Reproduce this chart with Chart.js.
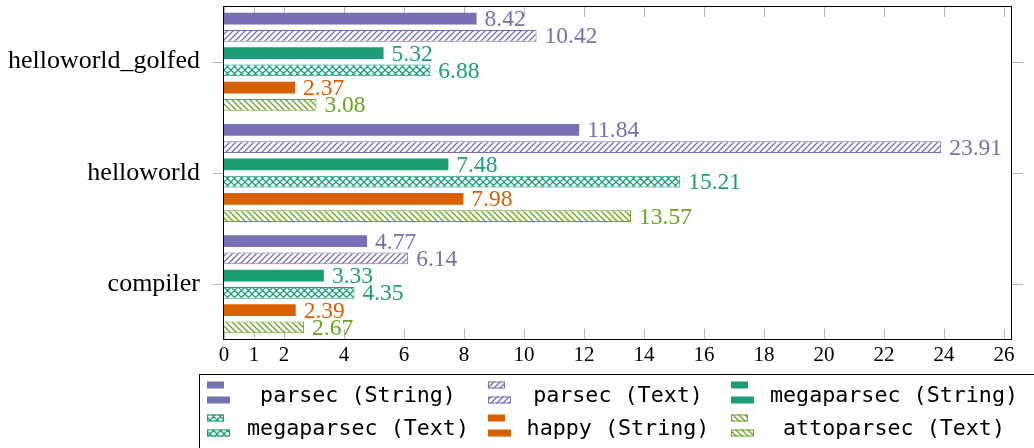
<!DOCTYPE html>
<html>
<head>
<meta charset="utf-8">
<script src="https://cdn.jsdelivr.net/npm/chart.js@4.4.1/dist/chart.umd.min.js"></script>
<style>
  html, body { margin: 0; padding: 0; background: #fff; }
</style>
</head>
<body>
<canvas id="chart" width="1034" height="448"></canvas>
<script>
const categories = ['helloworld_golfed', 'helloworld', 'compiler'];
const parsecString = [8.42, 11.84, 4.77];
const parsecText = [10.42, 23.91, 6.14];
const megaparsecString = [5.32, 7.48, 3.33];
const megaparsecText = [6.88, 15.21, 4.35];
const happyString = [2.37, 7.98, 2.39];
const attoparsecText = [3.08, 13.57, 2.67];
const xTicks = [0, 1, 2, 4, 6, 8, 10, 12, 14, 16, 18, 20, 22, 24, 26];

const canvas = document.getElementById('chart');
const ctx = canvas.getContext('2d');

// hatch tiles like the pgfplots patterns
function hatch(color, kind) {
  const s = kind === 'cross' ? 7 : 6;
  const c = document.createElement('canvas');
  c.width = s; c.height = s;
  const g = c.getContext('2d');
  g.fillStyle = '#fff';
  g.fillRect(0, 0, s, s);
  g.strokeStyle = color;
  g.lineWidth = 1.3;
  g.beginPath();
  if (kind === 'ne' || kind === 'cross') {
    g.moveTo(-1, s + 1); g.lineTo(s + 1, -1);
    g.moveTo(-1, 1); g.lineTo(1, -1);
    g.moveTo(s - 1, s + 1); g.lineTo(s + 1, s - 1);
  }
  if (kind === 'nw' || kind === 'cross') {
    g.moveTo(-1, -1); g.lineTo(s + 1, s + 1);
    g.moveTo(s - 1, -1); g.lineTo(s + 1, 1);
    g.moveTo(-1, s - 1); g.lineTo(1, s + 1);
  }
  g.stroke();
  return ctx.createPattern(c, 'repeat');
}

const purple = '#7570b3', green = '#1b9e77', orange = '#d95f02', lime = '#66a61e';

function solid(label, data, color) {
  return { label, data, backgroundColor: color, borderWidth: 0, textColor: color };
}
function hatched(label, data, color, kind) {
  return { label, data, backgroundColor: hatch(color, kind), borderColor: color, borderWidth: 1, textColor: color, hatched: true };
}

const datasets = [
  solid('parsec (String)', parsecString, purple),
  hatched('parsec (Text)', parsecText, purple, 'ne'),
  solid('megaparsec (String)', megaparsecString, green),
  hatched('megaparsec (Text)', megaparsecText, green, 'cross'),
  solid('happy (String)', happyString, orange),
  hatched('attoparsec (Text)', attoparsecText, lime, 'nw')
];

const tickMarks = {
  id: 'tickMarks',
  beforeDatasetsDraw(chart) {
    const { ctx, chartArea: a, scales: { x, y } } = chart;
    ctx.save();
    ctx.strokeStyle = '#b5b5b5';
    ctx.lineWidth = 1;
    ctx.beginPath();
    xTicks.forEach(v => {
      const px = Math.round(x.getPixelForValue(v)) + 0.5;
      ctx.moveTo(px, a.bottom); ctx.lineTo(px, a.bottom - 11);
      ctx.moveTo(px, a.top); ctx.lineTo(px, a.top + 11);
    });
    categories.forEach((c, i) => {
      const py = Math.round(y.getPixelForValue(i)) + 0.5;
      ctx.moveTo(a.left - 11, py); ctx.lineTo(a.left, py);
      ctx.moveTo(a.right, py); ctx.lineTo(a.right + 11, py);
    });
    ctx.stroke();
    ctx.restore();
  },
  afterDatasetsDraw(chart) {
    const { ctx, chartArea: a } = chart;
    ctx.save();
    ctx.strokeStyle = '#000';
    ctx.lineWidth = 1;
    ctx.strokeRect(Math.round(a.left) - 0.5, Math.round(a.top) + 0.5,
      Math.round(a.right - a.left), Math.round(a.bottom - a.top) - 1);
    ctx.restore();
  }
};

const valueLabels = {
  id: 'valueLabels',
  afterDatasetsDraw(chart) {
    const { ctx } = chart;
    ctx.save();
    ctx.font = '23.5px "Liberation Serif"';
    ctx.textBaseline = 'alphabetic';
    ctx.textAlign = 'left';
    chart.data.datasets.forEach((ds, i) => {
      ctx.fillStyle = ds.textColor;
      chart.getDatasetMeta(i).data.forEach((bar, j) => {
        ctx.fillText(ds.data[j].toFixed(2), bar.x + 8, bar.y + 7.5);
      });
    });
    ctx.restore();
  }
};

const boxLegend = {
  id: 'boxLegend',
  afterDraw(chart) {
    const { ctx } = chart;
    const iconX = [207, 488, 731];
    const textX = [358, 618, 894];
    const rowY = [392.5, 425.5];
    ctx.save();
    ctx.strokeStyle = '#000';
    ctx.lineWidth = 1;
    ctx.strokeRect(199.5, 374.5, 900, 100);
    ctx.font = '21.7px "DejaVu Sans Mono"';
    ctx.textAlign = 'center';
    ctx.textBaseline = 'middle';
    chart.data.datasets.forEach((ds, i) => {
      const col = i % 3, row = Math.floor(i / 3);
      const x = iconX[col], y = rowY[row];
      const rects = [[x, y - 11, 17, 7], [x, y + 4, 23, 7]];
      rects.forEach(r => {
        ctx.fillStyle = ds.backgroundColor;
        ctx.fillRect(r[0], r[1], r[2], r[3]);
        if (ds.hatched) {
          ctx.strokeStyle = ds.borderColor;
          ctx.strokeRect(r[0] + 0.5, r[1] + 0.5, r[2] - 1, r[3] - 1);
        }
      });
      ctx.fillStyle = '#000';
      ctx.fillText(ds.label, textX[col], y + 4);
    });
    ctx.restore();
  }
};

new Chart(ctx, {
  type: 'bar',
  data: { labels: categories, datasets },
  options: {
    indexAxis: 'y',
    responsive: false,
    animation: false,
    devicePixelRatio: 1,
    categoryPercentage: 0.93,
    barPercentage: 0.68,
    layout: { padding: { top: 6, right: 22, bottom: 74, left: 0 } },
    plugins: { legend: { display: false }, tooltip: { enabled: false } },
    scales: {
      x: {
        type: 'linear',
        min: 0,
        max: 26.27,
        afterBuildTicks: s => { s.ticks = xTicks.map(v => ({ value: v })); },
        afterFit: s => { s.height = 34; s.paddingLeft = 0; s.paddingRight = 0; },
        grid: { display: false, drawTicks: false },
        border: { display: false },
        ticks: {
          autoSkip: false, maxRotation: 0, padding: 3, color: '#000',
          font: { family: 'Liberation Serif', size: 21 }
        }
      },
      y: {
        afterFit: s => { s.width = 224; s.paddingTop = 0; s.paddingBottom = 0; },
        grid: { display: false, drawTicks: false },
        border: { display: false },
        ticks: {
          padding: 24, color: '#000',
          font: { family: 'Liberation Serif', size: 26 }
        }
      }
    }
  },
  plugins: [tickMarks, valueLabels, boxLegend]
});
</script>
</body>
</html>
